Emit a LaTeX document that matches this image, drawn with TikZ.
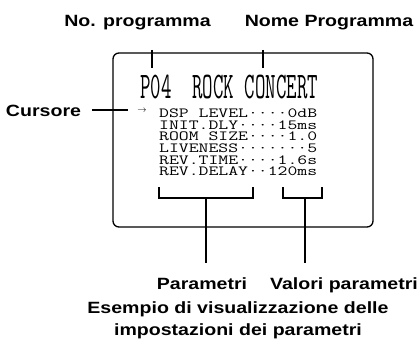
\documentclass[tikz,border=0pt]{standalone}
\usepackage{fontspec}
\setmainfont{Liberation Sans}
\newfontfamily\lblfont[FakeStretch=1.2]{Liberation Sans}
\newfontfamily\lcdfont[FakeStretch=1.37]{Latin Modern Mono}
\newfontfamily\lcdbigfont[FakeStretch=0.54]{Latin Modern Mono}
\usetikzlibrary{calc, positioning}

\begin{document}
\begin{tikzpicture}[x=1pt, y=-1pt,
  lbl/.style={font=\lblfont\bfseries\fontsize{16.3}{21.7}\selectfont,
              inner sep=0pt, anchor=base},
  row/.style={font=\lcdfont\fontsize{14}{14}\selectfont, text height=9pt,
              text depth=1pt, inner sep=0pt, anchor=base west},
  lead/.style={line width=2pt},
  frame/.style={line width=1.3pt, rounded corners=6pt},
]
\useasboundingbox (0,0) rectangle (420,345);

% display frame
\draw[frame] (113,53) rectangle (373,227);

% display contents
\node[font=\lcdbigfont\fontsize{37.6}{37.6}\selectfont, text depth=0pt,
      inner sep=0pt, anchor=base west] (head) at (140,98) {P04~~ROCK~CONCERT};
\node[font=\fontsize{9}{9}\selectfont, inner sep=0pt] (arr) at (142,111) {$\rightarrow$};
\node[row] (r1) at (159,117.5) {DSP LEVEL····0dB};
\node[row] (r2) at (159,129.2) {INIT.DLY····15ms};
\node[row] (r3) at (159,140.8) {ROOM SIZE····1.0};
\node[row] (r4) at (159,152.5) {LIVENESS·······5};
\node[row] (r5) at (159,164.2) {REV.TIME····1.6s};
\node[row] (r6) at (159,175.8) {REV.DELAY··120ms};

% labels
\node[lbl] (nolbl) at (137.5,27) {No. programma};
\node[lbl] (namelbl) at (329,27) {Nome Programma};
\node[lbl] (cur) at (43.5,116) {Cursore};
\node[lbl] (par) at (202,289) {Parametri};
\node[lbl] (val) at (344,289) {Valori parametri};
\node[lbl, align=center, anchor=north] (cap) at (238,301.5)
  {Esempio di visualizzazione delle\\impostazioni dei parametri};

% leaders
\coordinate (notop) at (152,50);
\coordinate (nobot) at (152,68);
\coordinate (nametop) at (263,50);
\coordinate (namebot) at (263,68);
\coordinate (curA) at (92,110);
\coordinate (curB) at (128,110);
\draw[lead] (notop) -- (nobot);
\draw[lead] (nametop) -- (namebot);
\draw[lead] (curA) -- (curB);

% brackets
\coordinate (pmid) at (206,198);
\coordinate (vmid) at (305,198);
\draw[lead] (159,187) |- (253,198) -- (253,187);
\draw[lead] (283,187) |- (322,198) -- (322,187);
\draw[lead] (pmid) -- (pmid |- 0,263);
\draw[lead] (vmid) -- (vmid |- 0,263);
\end{tikzpicture}
\end{document}
